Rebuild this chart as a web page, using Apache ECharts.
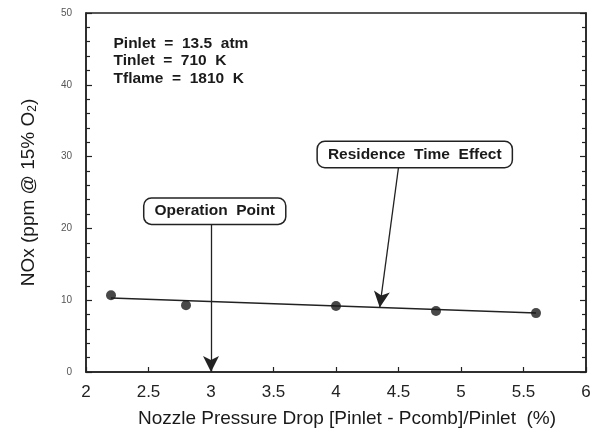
<!DOCTYPE html>
<html>
<head>
<meta charset="utf-8">
<script src="https://cdn.jsdelivr.net/npm/echarts@6/dist/echarts.min.js"></script>
<style>
html,body{margin:0;padding:0;background:#fff;}
#c{width:600px;height:433px;}
</style>
</head>
<body>
<div id="c"></div>
<script>
// Measured data
const pressureDrop = [2.2, 2.8, 4.0, 4.8, 5.6];
const noxValues = [10.7, 9.3, 9.2, 8.5, 8.2];
// Fitted trend line endpoints
const fitX = [2.2, 5.6];
const fitY = [10.3, 8.2];
// Axis ticks
const xTicks = [2, 2.5, 3, 3.5, 4, 4.5, 5, 5.5, 6];
const yTicks = [0, 10, 20, 30, 40, 50];
// Annotations (data coordinates)
const conditionsText = ['Pinlet  =  13.5  atm', 'Tinlet  =  710  K', 'Tflame  =  1810  K'];
const conditionsAt = [2.22, 47.0];
const opLabel = 'Operation  Point';
const opLabelAt = [3.03, 22.4];
const opArrow = [[3.0, 20.6], [3.0, 0]];
const resLabel = 'Residence  Time  Effect';
const resLabelAt = [4.63, 30.3];
const resArrow = [[4.5, 28.5], [4.35, 9.0]];

const FONT = 'Liberation Sans, Arial, Helvetica, sans-serif';
const chart = echarts.init(document.getElementById('c'));

const labelBox = {
  show: true,
  position: 'inside',
  color: '#1a1a1a',
  fontFamily: FONT,
  fontWeight: 'bold',
  fontSize: 15.5,
  backgroundColor: '#fff',
  borderColor: '#222',
  borderWidth: 1.5,
  borderRadius: 7,
  padding: [5, 10, 4, 10]
};

chart.setOption({
  animation: false,
  backgroundColor: '#fff',
  grid: { left: 86, top: 13, right: 14, bottom: 60, show: true, borderColor: '#222', borderWidth: 1.5, backgroundColor: 'transparent' },
  xAxis: {
    type: 'value', min: xTicks[0], max: xTicks[xTicks.length - 1], interval: 0.5,
    axisLine: { show: true, lineStyle: { color: '#222', width: 1.5 } },
    axisTick: { show: true, inside: true, length: 5, lineStyle: { color: '#222', width: 1.2 } },
    splitLine: { show: false },
    axisLabel: { color: '#222', fontFamily: FONT, fontSize: 17, margin: 12, formatter: v => String(v) },
    name: 'Nozzle Pressure Drop [Pinlet - Pcomb]/Pinlet  (%)',
    nameLocation: 'middle', nameGap: 37,
    nameTextStyle: { color: '#1a1a1a', fontFamily: FONT, fontSize: 19, padding: [0, 0, 0, 22] }
  },
  yAxis: [{
    type: 'value', min: yTicks[0], max: yTicks[yTicks.length - 1], interval: 10,
    axisLine: { show: true, lineStyle: { color: '#222', width: 1.5 } },
    axisTick: { show: true, inside: true, length: 6, lineStyle: { color: '#222', width: 1.2 } },
    minorTick: { show: true, splitNumber: 5, length: 4, lineStyle: { color: '#222', width: 1.2 } },
    splitLine: { show: false },
    axisLabel: { color: '#555', fontFamily: FONT, fontSize: 10, margin: 14 },
    name: 'NOx (ppm @ 15% O{sub|2})',
    nameLocation: 'middle', nameGap: 47,
    nameTextStyle: { color: '#1a1a1a', fontFamily: FONT, fontSize: 19,
      rich: { sub: { fontSize: 12, fontFamily: FONT, color: '#1a1a1a', padding: [9, 0, 0, 0] } } }
  }, {
    type: 'value', position: 'right', min: yTicks[0], max: yTicks[yTicks.length - 1], interval: 10,
    axisLine: { show: true, lineStyle: { color: '#222', width: 1.5 } },
    axisTick: { show: true, inside: true, length: 6, lineStyle: { color: '#222', width: 1.2 } },
    minorTick: { show: true, splitNumber: 5, length: 4, lineStyle: { color: '#222', width: 1.2 } },
    splitLine: { show: false },
    axisLabel: { show: false }
  }],
  series: [{
    type: 'line',
    data: fitX.map((x, i) => [x, fitY[i]]),
    symbol: 'none',
    lineStyle: { color: '#222', width: 1.5 },
    z: 2,
    markLine: {
      silent: true,
      symbol: ['none', 'arrow'],
      symbolSize: [12, 16],
      label: { show: false },
      lineStyle: { color: '#222', width: 1.3, type: 'solid' },
      data: [
        [{ coord: opArrow[0] }, { coord: opArrow[1] }],
        [{ coord: resArrow[0] }, { coord: resArrow[1] }]
      ]
    },
    markPoint: {
      silent: true,
      symbol: 'rect', symbolSize: 0,
      data: [
        { coord: opLabelAt, value: opLabel, label: Object.assign({}, labelBox, { formatter: opLabel }) },
        { coord: resLabelAt, value: resLabel, label: Object.assign({}, labelBox, { formatter: resLabel }) },
        { coord: conditionsAt, value: 0, label: {
            show: true, position: [0, 0], align: 'left', verticalAlign: 'top',
            formatter: conditionsText.join('\n'),
            color: '#1a1a1a', fontFamily: FONT, fontWeight: 'bold', fontSize: 15.5, lineHeight: 17.5 } }
      ]
    }
  }, {
    type: 'scatter',
    data: pressureDrop.map((x, i) => [x, noxValues[i]]),
    symbol: 'circle', symbolSize: 10,
    itemStyle: { color: '#1a1a1a' },
    z: 3
  }]
});
</script>
</body>
</html>
